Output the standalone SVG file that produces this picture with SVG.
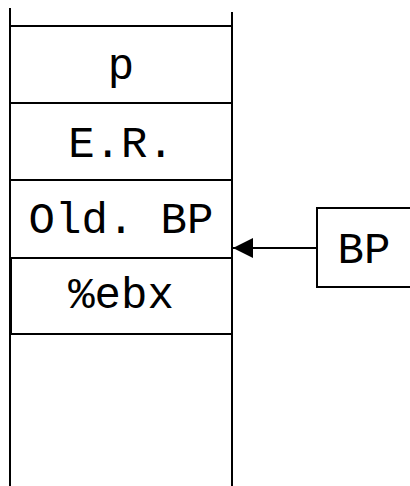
<svg xmlns="http://www.w3.org/2000/svg" width="410" height="486" viewBox="0 0 410 486">
<style>
.cell{fill:#fff;stroke:#000;stroke-width:2}
.line{stroke:#000;stroke-width:2;fill:none}
.t{font-family:"Liberation Mono","Courier New",monospace;font-size:44px;text-anchor:middle;fill:#000}
</style>
<defs>
<marker id="ah" markerWidth="10" markerHeight="10" refX="10" refY="5" orient="auto" markerUnits="userSpaceOnUse" viewBox="0 0 10 10">
<path d="M0,0 L10,5 L0,10 z" fill="#000"/>
</marker>
<marker id="ah2" viewBox="0 0 20 20" refX="20" refY="10" markerWidth="20" markerHeight="20" orient="auto" markerUnits="userSpaceOnUse">
<path d="M0,0 L20,10 L0,20 z" fill="#000"/>
</marker>
</defs>
<g id="stack">
<line class="line" x1="10" y1="8" x2="10" y2="486"/>
<line class="line" x1="232" y1="12" x2="232" y2="486"/>
</g>
<g id="p"><rect class="cell" x="10" y="26" width="222" height="77"/><text class="t" x="121" y="79">p</text></g>
<g id="er"><rect class="cell" x="10" y="103" width="222" height="77"/><text class="t" x="121" y="157">E.R.</text></g>
<g id="oldbp"><rect class="cell" x="10" y="180" width="222" height="78"/><text class="t" x="121" y="233">Old. BP</text></g>
<g id="ebx"><rect class="cell" x="11" y="258" width="221" height="76"/><text class="t" x="121" y="308">%ebx</text></g>
<g id="bp"><rect class="cell" x="317" y="208" width="110" height="79"/><text class="t" x="364" y="263">BP</text></g>
<g id="connectors">
<line class="line" x1="317" y1="248" x2="233" y2="248" marker-end="url(#ah2)"/>
</g>
</svg>
